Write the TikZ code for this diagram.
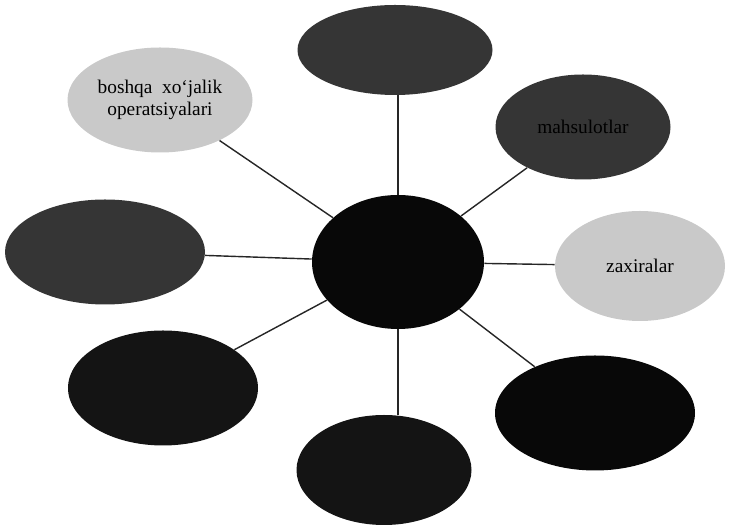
\documentclass[tikz,border=0pt]{standalone}
\usepackage{fontspec}
\setmainfont{Liberation Serif}
\usetikzlibrary{shapes.geometric}
\definecolor{ink}{HTML}{1A1A1A}
\definecolor{smoke}{HTML}{C9C9C9}

\begin{document}
\begin{tikzpicture}[
  blob/.style={ellipse,fill=ink!88,draw=none,inner sep=0pt,font=\fontsize{11}{12.5}\selectfont,align=center},
  deep/.style={blob,fill=black!97},
  pale/.style={blob,fill=smoke},
  link/.style={draw=black!85,line width=0.8pt}]
\useasboundingbox (0,0) rectangle (15,10.54);
\node[deep,minimum width=3.44cm,minimum height=2.68cm] (hub) at (7.96,5.30) {};
\node[blob,minimum width=3.9cm,minimum height=1.8cm] (ob1) at (7.90,9.54) {};
\node[pale,minimum width=3.7cm,minimum height=2.1cm] (ob2) at (3.20,8.54) {boshqa\ \ xo`jalik\\operatsiyalari};
\node[blob,minimum width=3.5cm,minimum height=2.1cm] (ob3) at (11.66,8.00) {mahsulotlar};
\node[blob,minimum width=4.0cm,minimum height=2.1cm] (ob4) at (2.10,5.50) {};
\node[pale,minimum width=3.4cm,minimum height=2.2cm] (ob5) at (12.80,5.22) {zaxiralar};
\node[deep,fill=black!92,minimum width=3.8cm,minimum height=2.3cm] (ob6) at (3.26,2.78) {};
\node[deep,minimum width=4.0cm,minimum height=2.3cm] (ob7) at (11.90,2.28) {};
\node[deep,fill=black!92,minimum width=3.5cm,minimum height=2.2cm] (ob8) at (7.68,1.14) {};
\draw[link] (hub.north)--(hub.north|-ob1.south); \draw[link] (hub)--(ob2); \draw[link] (hub)--(ob3); \draw[link] (hub)--(ob4);
\draw[link] (hub)--(ob5); \draw[link] (hub)--(ob6); \draw[link] (hub)--(ob7); \draw[link] (hub.south)--(hub.south|-ob8.north);
\end{tikzpicture}
\end{document}
